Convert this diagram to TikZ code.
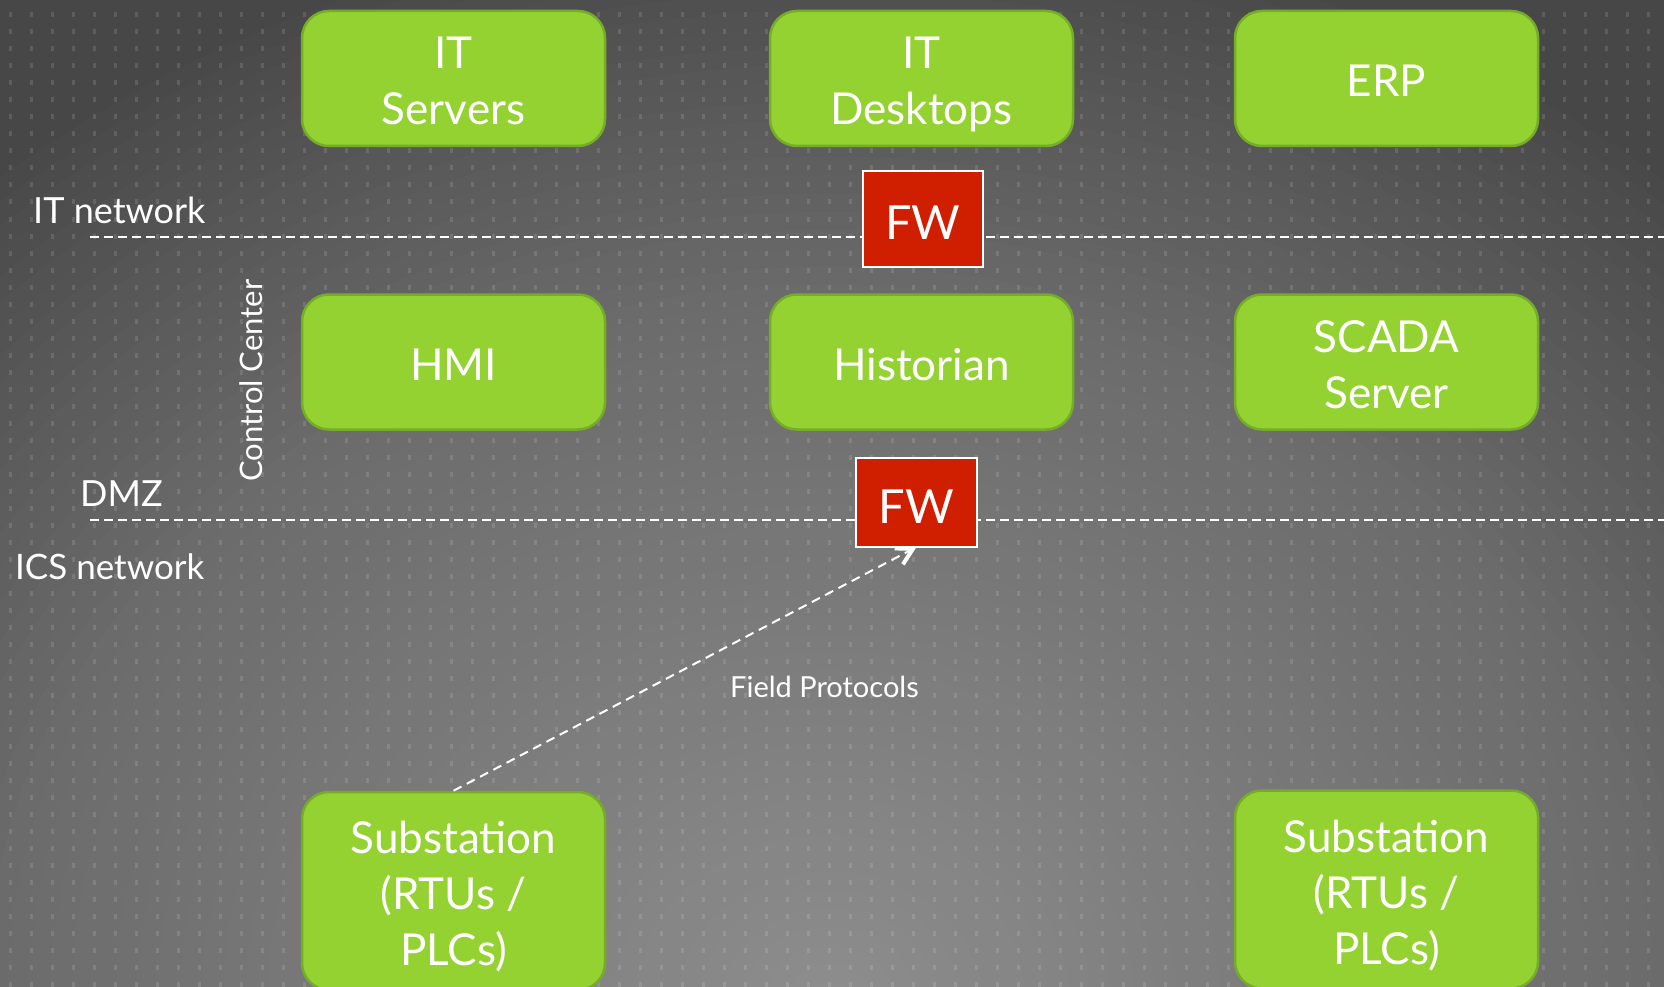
\documentclass[tikz,border=0pt]{standalone}
\usepackage{fontspec}
\setmainfont{Lato}
\usetikzlibrary{arrows.meta}

\definecolor{bgdark}{HTML}{474747}
\definecolor{boxgreen}{HTML}{94D232}
\definecolor{boxedge}{HTML}{76AD28}
\definecolor{fwred}{HTML}{CF1E00}

% uniform line strut: height 46.5pt, depth 9.5pt (= baselineskip)
\newcommand\lnstrut{\rule[-9.5pt]{0pt}{56pt}}

\begin{document}
\begin{tikzpicture}[x=1pt,y=-1pt,
  itbox/.style={draw=boxedge, line width=2.5pt, fill=boxgreen, rounded corners=27pt,
    minimum width=303pt, minimum height=135pt, text=white, align=center,
    font=\fontsize{44}{56}\selectfont, inner sep=0pt},
  fwbox/.style={draw=white, line width=2.5pt, fill=fwred, text=white,
    font=\fontsize{47}{56}\selectfont, inner sep=0pt, text height=41.8pt, text depth=0pt},
  zoneline/.style={white, line width=2pt, dash pattern=on 9pt off 5pt},
  zonelabel/.style={text=white, font=\fontsize{36}{40}\selectfont, inner sep=0pt, anchor=base west},
  dotcol/.style={white, opacity=0.12, line width=3pt, dash pattern=on 5pt off 12pt}
]
\useasboundingbox (0,0) rectangle (1664,987);

% background: dark base with a soft glow rising from the bottom centre
\fill[bgdark] (0,0) rectangle (1664,987);
\begin{scope}
  \clip (0,0) rectangle (1664,987);
  \foreach \i in {60,...,1}{
    \pgfmathsetmacro\f{\i/60}
    \pgfmathtruncatemacro\g{\f<0.64 ? 142-53*\f : 108-(\f-0.64)*100}
    \definecolor{ringcol}{RGB}{\g,\g,\g}
    \fill[ringcol] (830,1000) ellipse [x radius=1300*\f, y radius=1100*\f];
  }
\end{scope}

% dotted grid
\foreach \k in {0,...,78}
  \draw[dotcol] (10.5+21*\k,-4.5) -- (10.5+21*\k,992);

% zone boundaries
\coordinate (itL) at (90,237);
\coordinate (itR) at (1664,237);
\coordinate (dmzL) at (90,520);
\coordinate (dmzR) at (1664,520);
\draw[zoneline] (itL) -- (itR);
\draw[zoneline] (dmzL) -- (dmzR);

% systems
\node[itbox] (srv) at (453.5,78.5) {\lnstrut IT\\\lnstrut Servers};
\node[itbox] (dsk) at (921.5,78.5) {\lnstrut IT\\\lnstrut Desktops};
\node[itbox] (erp) at (1386.5,78.5) {\lnstrut ERP};
\node[itbox] (hmi) at (453.5,362) {\lnstrut HMI};
\node[itbox] (hist) at (921.5,362) {\lnstrut Historian};
\node[itbox] (scada) at (1386.5,362) {\lnstrut SCADA\\\lnstrut Server};
\node[itbox, minimum height=198pt] (subL) at (453.5,891) {\lnstrut Substation\\\lnstrut (RTUs /\\\lnstrut PLCs)};
\node[itbox, minimum height=198pt] (subR) at (1386.5,889.5) {\lnstrut Substation\\\lnstrut (RTUs /\\\lnstrut PLCs)};

% firewalls
\node[fwbox, minimum width=120pt, minimum height=96pt] (fw1) at (923,219) {FW};
\coordinate (fw2pos) at (916.5,502.5);
\draw[white, line width=2pt, dash pattern=on 9pt off 6pt,
  -{Straight Barb[length=16pt,width=18pt,line width=4pt]}] (subL.north) -- (fw2pos |- 0,547);
\node[fwbox, minimum width=121pt, minimum height=89pt] (fw2) at (fw2pos) {FW};

% labels
\node[zonelabel] (lblit) at (33,223) {IT network};
\node[zonelabel] (lbldmz) at (80,506) {DMZ};
\node[zonelabel, font=\fontsize{35}{40}\selectfont] (lblics) at (15,579) {ICS network};
\node[zonelabel, font=\fontsize{31}{36}\selectfont, rotate=90] (lblcc) at (262,482) {Control Center};
\node[zonelabel, font=\fontsize{29}{34}\selectfont] (lblfp) at (730,697) {Field Protocols};
\end{tikzpicture}
\end{document}
